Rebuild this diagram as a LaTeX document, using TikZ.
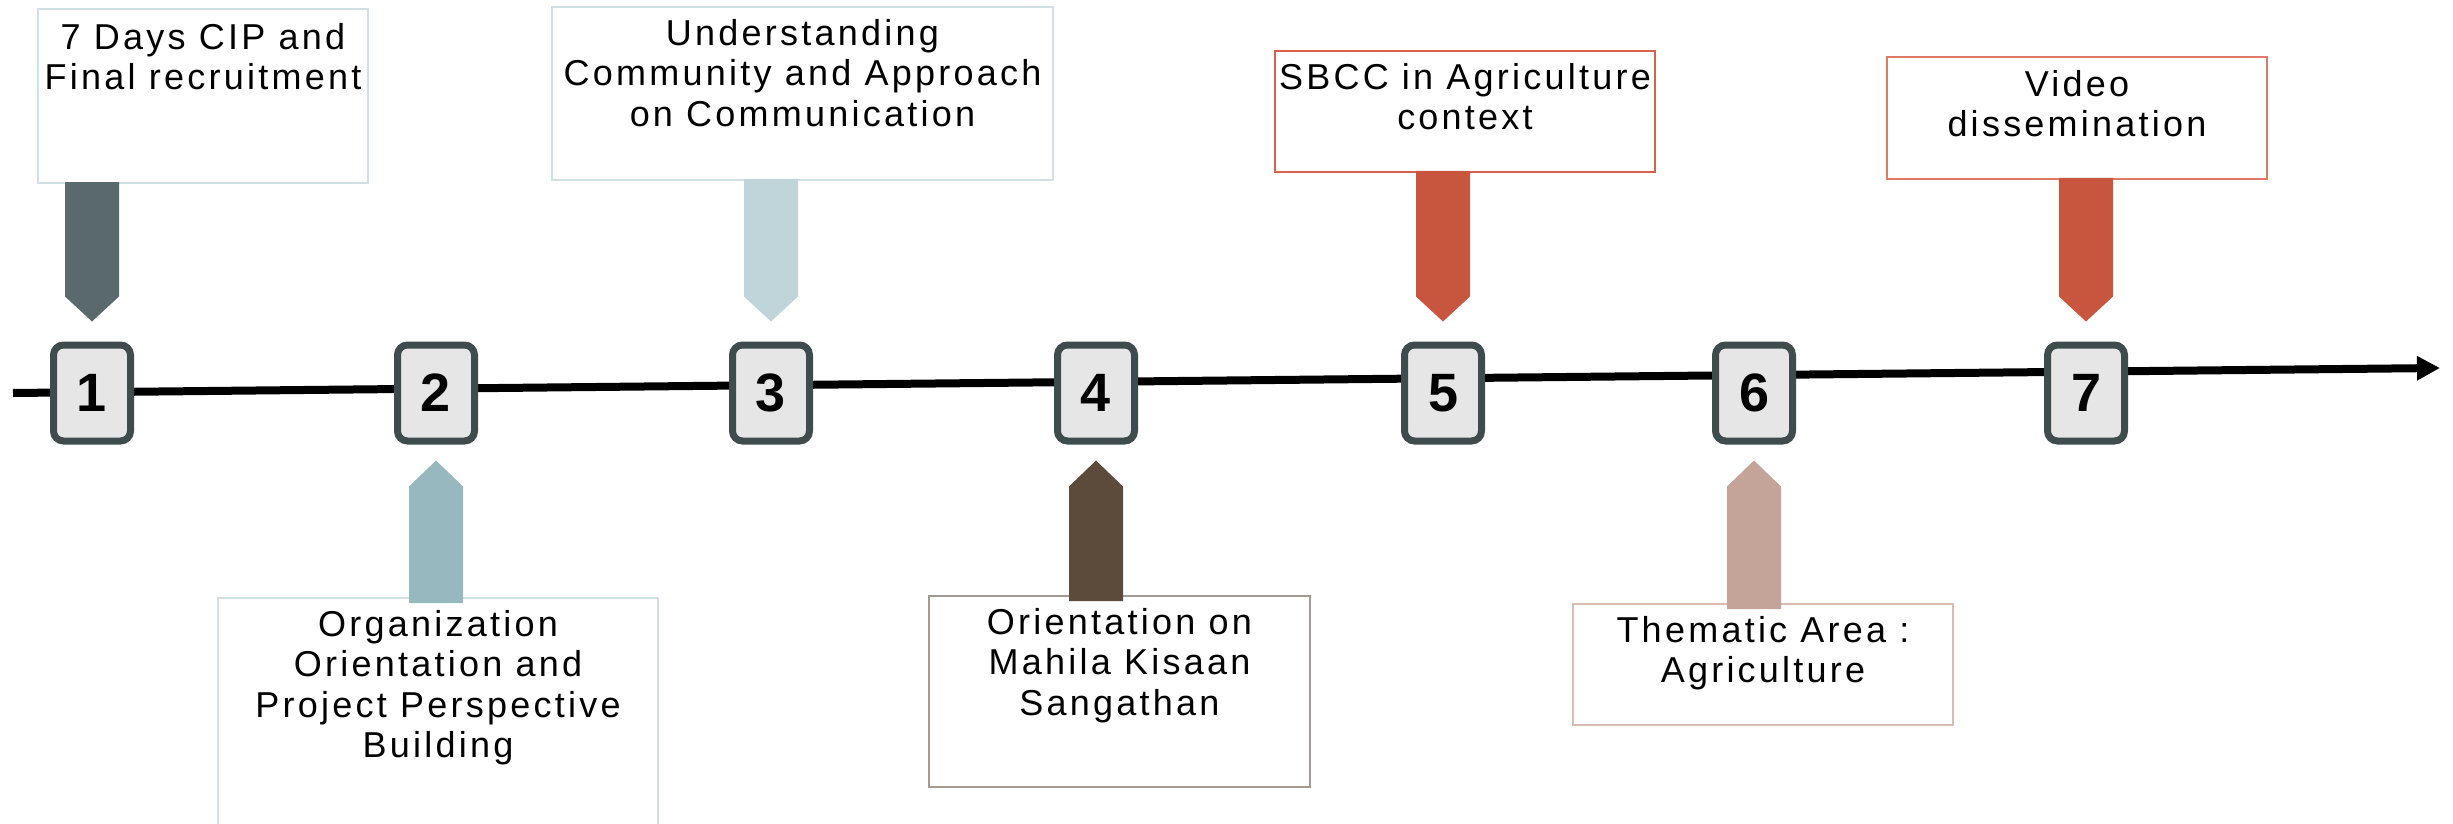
\documentclass[tikz,border=0pt]{standalone}
\usepackage{fontspec}
\setmainfont{Liberation Sans}
\newfontfamily\lblfont[LetterSpace=9]{Liberation Sans}
\usetikzlibrary{arrows.meta,calc}
\definecolor{arA}{HTML}{5A6A6C}
\definecolor{arB}{HTML}{97B8BE}
\definecolor{arC}{HTML}{C0D5D9}
\definecolor{arD}{HTML}{5C4A3B}
\definecolor{arE}{HTML}{C8553D}
\definecolor{arF}{HTML}{C4A398}
\definecolor{bdBlue}{HTML}{D0E0E3}
\definecolor{bdBrown}{HTML}{A59A92}
\definecolor{bdRed}{HTML}{D9604A}
\definecolor{bdPink}{HTML}{D9BBB1}
\definecolor{bdRedL}{HTML}{E07A67}
\definecolor{numfill}{HTML}{E6E6E6}
\definecolor{numborder}{HTML}{3F4C4D}
\newcommand{\ArrDown}[3]{\fill[#3] ($(#1.south -| #2.center)+(-27,-2)$) -- ($(#1.south -| #2.center)+(27,-2)$) -- ($(#2.north)+(27,-45)$) -- ($(#2.north)+(0,-20)$) -- ($(#2.north)+(-27,-45)$) -- cycle;}
\newcommand{\ArrUp}[3]{\fill[#3] ($(#1.north -| #2.center)+(-27,6)$) -- ($(#1.north -| #2.center)+(27,6)$) -- ($(#2.south)+(27,42)$) -- ($(#2.south)+(0,16)$) -- ($(#2.south)+(-27,42)$) -- cycle;}
\begin{document}
\begin{tikzpicture}[x=0.5pt,y=-0.5pt,
  tbox/.style={draw=#1, line width=1pt, fill=white, inner sep=0pt},
  ttext/.style={anchor=north, align=center, inner sep=0pt, text=black,
    font=\lblfont\fontsize{18}{20.25}\selectfont},
  numbox/.style={draw=numborder, fill=numfill, line width=3.5pt, rounded corners=5pt,
    minimum width=38.5pt, minimum height=48pt, inner sep=0pt,
    font=\bfseries\fontsize{27}{30}\selectfont}]
\useasboundingbox (0,0) rectangle (2453,824);
\fill[white] (0,0) rectangle (2453,824);
\clip (0,0) rectangle (2453,824);
% timeline
\coordinate (ls) at (13,393);
\coordinate (le) at (2440,368);
\draw[line width=4pt, -{Triangle[length=11.5pt,width=11.5pt]}] (ls) -- (le);
% number boxes
\node[numbox] (n1) at (92,393) {1};
\node[numbox] (n2) at (436,393) {2};
\node[numbox] (n3) at (771,393) {3};
\node[numbox] (n4) at (1096,393) {4};
\node[numbox] (n5) at (1443,393) {5};
\node[numbox] (n6) at (1754,393) {6};
\node[numbox] (n7) at (2086,393) {7};
% text boxes
\node[tbox=bdBlue, minimum width=165pt, minimum height=87pt] (b1) at (203,96) {};
\node[tbox=bdBlue, minimum width=220pt, minimum height=121pt] (b2) at (438,719) {};
\node[tbox=bdBlue, minimum width=250.5pt, minimum height=86.5pt] (b3) at (802.5,93.5) {};
\node[tbox=bdBrown, minimum width=190.5pt, minimum height=95.5pt] (b4) at (1119.5,691.5) {};
\node[tbox=bdRed, minimum width=190pt, minimum height=60.5pt] (b5) at (1465,111.5) {};
\node[tbox=bdPink, minimum width=190pt, minimum height=60.5pt] (b6) at (1763,664.5) {};
\node[tbox=bdRedL, minimum width=190pt, minimum height=61pt] (b7) at (2077,118) {};
% pointers
\ArrDown{b1}{n1}{arA}
\ArrUp{b2}{n2}{arB}
\ArrDown{b3}{n3}{arC}
\ArrUp{b4}{n4}{arD}
\ArrDown{b5}{n5}{arE}
\ArrUp{b6}{n6}{arF}
\ArrDown{b7}{n7}{arE}
% texts
\node[ttext] (t1) at ($(b1.north)+(0,15)$) {7 Days CIP and\\Final recruitment};
\node[ttext] (t2) at ($(b2.north)+(0,13)$) {Organization\\Orientation and\\Project Perspective\\Building};
\node[ttext] (t3) at ($(b3.north)+(0,13)$) {Understanding\\Community and Approach\\on Communication};
\node[ttext] (t4) at ($(b4.north)+(0,13)$) {Orientation on\\Mahila Kisaan\\Sangathan};
\node[ttext] (t5) at ($(b5.north)+(0,13)$) {SBCC in Agriculture\\context};
\node[ttext] (t6) at ($(b6.north)+(0,13)$) {Thematic Area :\\Agriculture};
\node[ttext] (t7) at ($(b7.north)+(0,14)$) {Video\\dissemination};
\end{tikzpicture}
\end{document}
